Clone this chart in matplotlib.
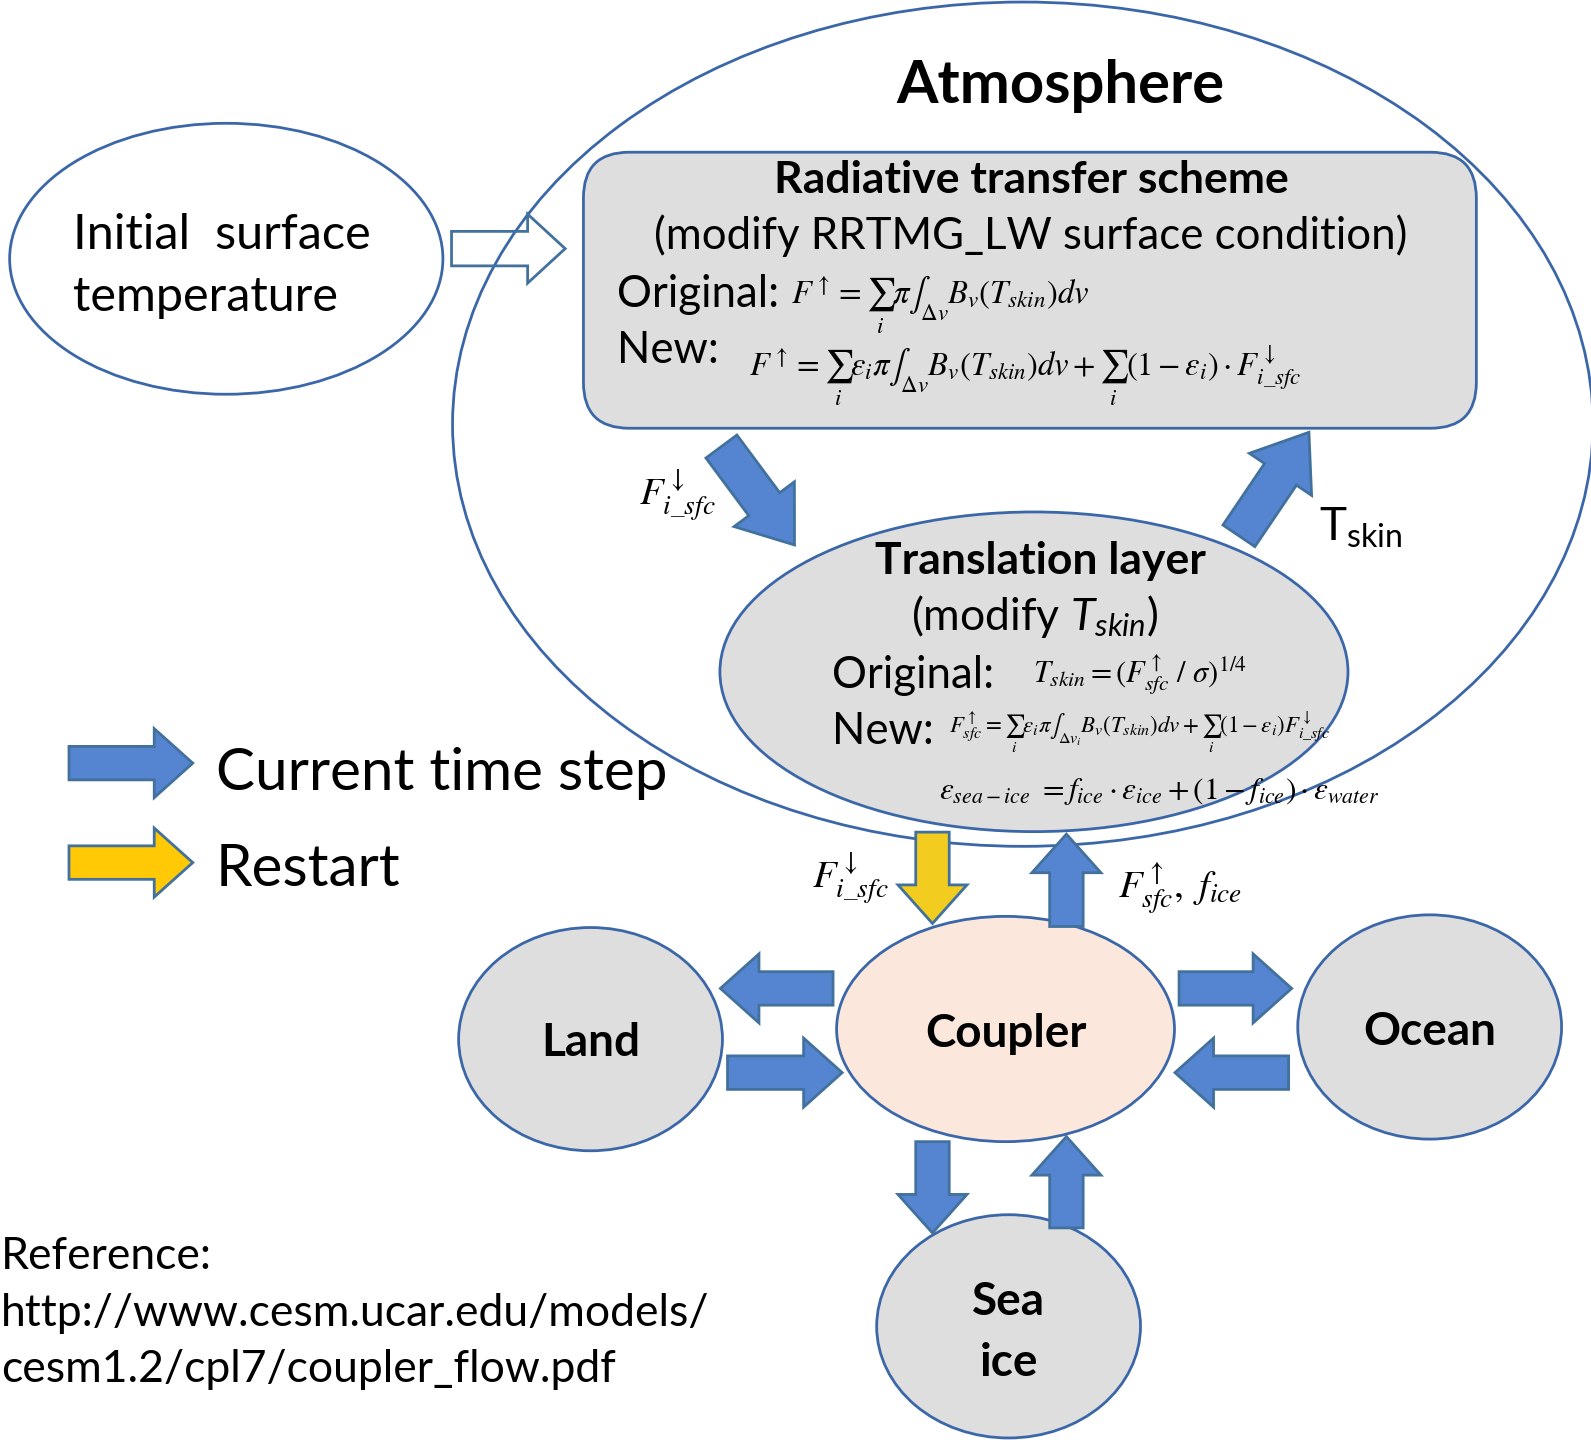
import matplotlib
matplotlib.use("Agg")
import matplotlib.pyplot as plt
from matplotlib.patches import Ellipse, FancyBboxPatch, FancyArrow

plt.rcParams["font.family"] = ["Lato", "DejaVu Sans"]
plt.rcParams["mathtext.fontset"] = "custom"
plt.rcParams["mathtext.rm"] = "Lato"
plt.rcParams["mathtext.it"] = "Lato:italic"
plt.rcParams["mathtext.bf"] = "Lato:bold"

# Texts of the diagram
title = "Atmosphere"
rt_title = "Radiative transfer scheme"
rt_sub = "(modify RRTMG_LW surface condition)"
rt_orig = r"$F^{\uparrow} = \sum_{i}\pi\int_{\Delta v} B_v(T_{skin})dv$"
rt_new = (r"$F^{\uparrow} = \sum_{i}\varepsilon_i\pi\int_{\Delta v} B_v(T_{skin})dv"
          r" + \sum_{i}(1-\varepsilon_i)\cdot F^{\downarrow}_{i\_sfc}$")
tl_title = "Translation layer"
tl_sub = r"(modify $T_{skin}$)"
tl_orig = r"$T_{skin} = (F^{\uparrow}_{sfc}\ /\ \sigma)^{1/4}$"
tl_new = (r"$F^{\uparrow}_{sfc} = \sum_{i}\varepsilon_i\pi\int_{\Delta v_i} B_v(T_{skin})dv"
          r" + \sum_{i}(1-\varepsilon_i)F^{\downarrow}_{i\_sfc}$")
tl_eps = r"$\varepsilon_{sea-ice}\ = f_{ice}\cdot\varepsilon_{ice} + (1-f_{ice})\cdot\varepsilon_{water}$"
init_lines = ["Initial  surface", "temperature"]
flux_down = r"$F^{\downarrow}_{i\_sfc}$"
flux_up = r"$F^{\uparrow}_{sfc},\ f_{ice}$"
legend_labels = ["Current time step", "Restart"]
components = ["Land", "Coupler", "Ocean", "Sea\nice"]
ref_lines = ["Reference:", "http://www.cesm.ucar.edu/models/", "cesm1.2/cpl7/coupler_flow.pdf"]

EDGE = "#3b67a8"
BLUE = "#5585d0"
YELLOW = "#f2cc1f"
GRAY = "#dedede"
PEACH = "#fbe7dc"

fig = plt.figure(figsize=(15.91, 14.40), dpi=100)
ax = fig.add_axes([0, 0, 1, 1])
ax.set_xlim(0, 1568)
ax.set_ylim(1419, 0)
ax.axis("off")


def ell(cx, cy, w, h, fc):
    ax.add_patch(Ellipse((cx, cy), w, h, facecolor=fc, edgecolor=EDGE, lw=2, zorder=1))


def arrow(x0, y0, x1, y1, fc=BLUE, w=33, hw=68, hl=38, z=3):
    ax.add_patch(FancyArrow(x0, y0, x1 - x0, y1 - y0, width=w, head_width=hw, head_length=hl,
                            length_includes_head=True, facecolor=fc, edgecolor="#41719c",
                            lw=2, zorder=z))


# Shapes
ell(1008, 418, 1124, 832, "white")
ax.add_patch(FancyBboxPatch((575, 150), 880, 272, boxstyle="round,pad=0,rounding_size=45",
                            facecolor=GRAY, edgecolor=EDGE, lw=2, zorder=1))
ell(223, 255, 427, 267, "white")
ell(1019, 662, 619, 315, GRAY)
ell(991, 1014, 333, 222, PEACH)
ell(582, 1024, 260, 220, GRAY)
ell(1409, 1012, 260, 221, GRAY)
ell(994, 1307, 260, 220, GRAY)

# Arrows
arrow(445, 245, 557, 245, fc="none", w=34, hw=68, hl=37)
arrow(711, 440, 783, 537, w=38, hw=74, hl=50)
arrow(1221, 528, 1290, 426, w=38, hw=74, hl=50)
arrow(68, 752, 190, 752)
arrow(68, 850, 190, 850, fc="#ffc905")
arrow(919, 820, 919, 910, fc=YELLOW)
arrow(1051, 913, 1051, 822)
arrow(821, 974, 710, 974)
arrow(717, 1057, 830, 1057)
arrow(1162, 974, 1273, 974)
arrow(1270, 1057, 1158, 1057)
arrow(919, 1125, 919, 1215)
arrow(1051, 1210, 1051, 1120)

# Texts
ax.text(1045, 85, title, fontsize=43, fontweight="bold", ha="center", va="center")
ax.text(1016, 177, rt_title, fontsize=32, fontweight="bold", ha="center", va="center")
ax.text(1016, 232, rt_sub, fontsize=31.5, ha="center", va="center")
ax.text(608, 290, "Original:", fontsize=31.5, ha="left", va="center")
ax.text(780, 300, rt_orig, fontsize=23.5, ha="left", va="center", math_fontfamily="stix")
ax.text(608, 345, "New:", fontsize=31.5, ha="left", va="center")
ax.text(738, 370, rt_new, fontsize=23.5, ha="left", va="center", math_fontfamily="stix")

for i, line in enumerate(init_lines):
    ax.text(72, 232 + 61 * i, line, fontsize=35, ha="left", va="center")

ax.text(668, 488, flux_down, fontsize=28, ha="center", va="center", math_fontfamily="stix")
ax.text(1300, 520, r"$\mathrm{T}_{\mathrm{skin}}$", fontsize=33, ha="left", va="center")

ax.text(1025, 553, tl_title, fontsize=32, fontweight="bold", ha="center", va="center")
ax.text(1020, 608, tl_sub, fontsize=32, ha="center", va="center")
ax.text(820, 666, "Original:", fontsize=31.5, ha="left", va="center")
ax.text(1018, 665, tl_orig, fontsize=22, ha="left", va="center", math_fontfamily="stix")
ax.text(820, 721, "New:", fontsize=31.5, ha="left", va="center")
ax.text(935, 722, tl_new, fontsize=16.5, ha="left", va="center", math_fontfamily="stix")
ax.text(925, 780, tl_eps, fontsize=22.5, ha="left", va="center", math_fontfamily="stix")

for i, lab in enumerate(legend_labels):
    ax.text(213, 762 + 95 * i, lab, fontsize=42, ha="left", va="center")

ax.text(838, 865, flux_down, fontsize=28, ha="center", va="center", math_fontfamily="stix")
ax.text(1102, 875, flux_up, fontsize=28, ha="left", va="center", math_fontfamily="stix")

comp_xy = [(582, 1028), (991, 1019), (1409, 1017), (994, 1313)]
for name, (x, y) in zip(components, comp_xy):
    ax.text(x, y, name, fontsize=33, fontweight="bold", ha="center", va="center",
            linespacing=1.55)

for i, line in enumerate(ref_lines):
    ax.text(1, 1238 + 56 * i, line, fontsize=32, ha="left", va="center")

fig.savefig("out.png", dpi=100)
